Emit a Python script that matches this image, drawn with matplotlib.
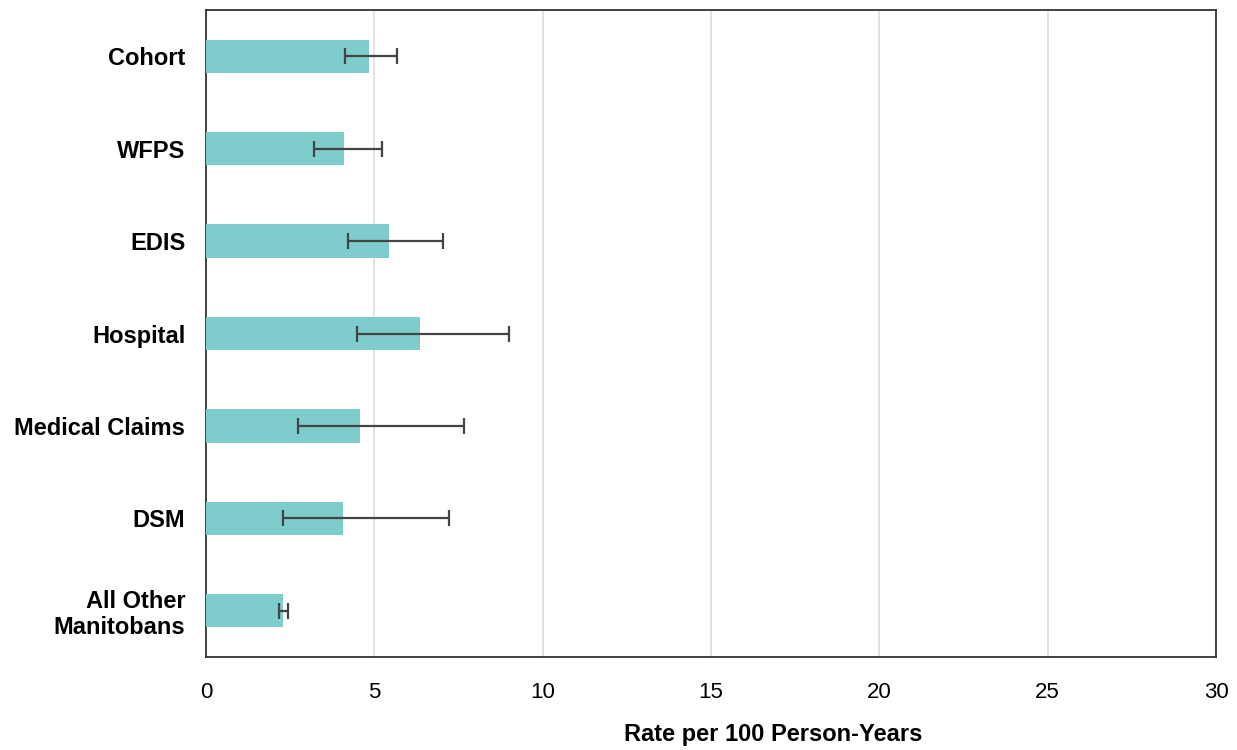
import matplotlib
matplotlib.use("Agg")
import matplotlib.pyplot as plt
import numpy as np

plt.rcParams["font.family"] = ["Liberation Sans", "DejaVu Sans"]

groups = ["Cohort", "WFPS", "EDIS", "Hospital", "Medical Claims", "DSM", "All Other\nManitobans"]
rates = [4.83, 4.10, 5.45, 6.36, 4.58, 4.06, 2.30]
ci_low = [4.12, 3.21, 4.22, 4.48, 2.74, 2.29, 2.16]
ci_high = [5.67, 5.24, 7.05, 9.00, 7.67, 7.22, 2.45]

BAR = "#7ecdcc"
ERR = "#444444"
GRID = "#dddddd"

fig = plt.figure(figsize=(12.37, 7.5), dpi=100)
ax = fig.add_axes([206 / 1237, 1 - 657 / 750, 1010 / 1237, 647 / 750])

ys = np.arange(len(groups))
rates_a = np.array(rates)
xerr = [rates_a - np.array(ci_low), np.array(ci_high) - rates_a]
ax.barh(ys, rates, height=0.36, color=BAR, zorder=3)
ax.errorbar(rates, ys, xerr=xerr, fmt="none", ecolor=ERR, elinewidth=1.6,
            capsize=5.5, capthick=1.6, zorder=4)

ax.set_ylim(len(groups) - 0.5, -0.5)
ax.set_yticks(ys)
ax.set_yticklabels(groups, fontsize=17, fontweight="bold", linespacing=1.15)
ax.set_xlim(0, 30)
ax.set_xticks(range(0, 31, 5))
ax.tick_params(axis="x", labelsize=16, length=0, pad=18)
ax.tick_params(axis="y", length=0, pad=15)
ax.grid(axis="x", color=GRID, lw=1.2, zorder=0)
ax.set_axisbelow(True)
for s in ax.spines.values():
    s.set_color("#333333")
    s.set_linewidth(1.3)

ax.set_xlabel("Rate per 100 Person-Years", fontsize=17, fontweight="bold")
ax.xaxis.set_label_coords(567 / 1010, -66 / 647)

fig.savefig("out.png", dpi=100, facecolor="white")
